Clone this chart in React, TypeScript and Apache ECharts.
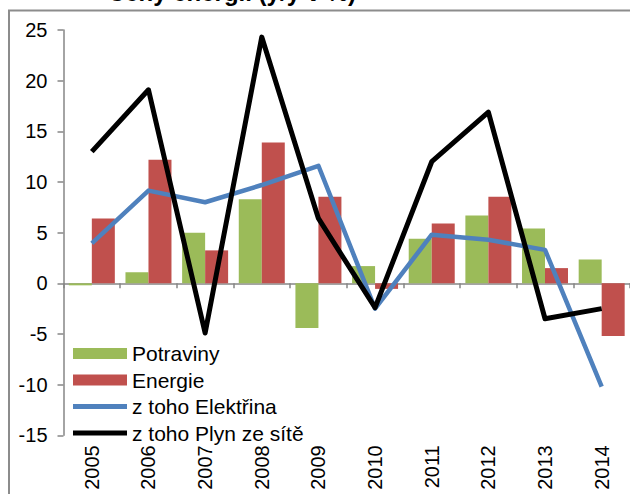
import React, { useEffect, useRef } from "react";
import * as echarts from "echarts";

const years = ["2005", "2006", "2007", "2008", "2009", "2010", "2011", "2012", "2013", "2014"];
const potraviny = [-0.2, 1.1, 5.0, 8.3, -4.4, 1.7, 4.4, 6.7, 5.4, 2.35];
const energie = [6.4, 12.2, 3.25, 13.9, 8.55, -0.55, 5.9, 8.55, 1.5, -5.2];
const elektrina = [3.95, 9.15, 8.0, 9.7, 11.6, -2.5, 4.8, 4.3, 3.3, -10.2];
const plyn = [13.0, 19.1, -4.9, 24.3, 6.4, -2.4, 12.0, 16.9, -3.5, -2.5];
const yTicks = { min: -15, max: 25, interval: 5 };
const titleText = "Ceny energií (y/y v %)";

const FONT = "'Liberation Sans', Arial, sans-serif";
const LINE_ICON = "path://M0,0 L54,0 L54,5 L0,5 Z";

export default function App() {
  const ref = useRef<HTMLDivElement>(null);
  useEffect(() => {
    if (!ref.current) return;
    const chart = echarts.init(ref.current, null, { renderer: "svg" });
    chart.setOption({
      animation: false,
      backgroundColor: "#ffffff",
      textStyle: { fontFamily: FONT },
      grid: { left: 63.5, right: -7.5, top: 30, bottom: 58.7, containLabel: false },
      graphic: [
        {
          type: "rect",
          shape: { x: 9, y: 10.5, width: 800, height: 700 },
          style: { fill: "none", stroke: "#8c8c8c", lineWidth: 2 },
          z: 0,
        },
        {
          type: "text",
          x: 356,
          y: 4,
          style: {
            text: titleText,
            font: "bold 24px " + FONT,
            fill: "#000",
            align: "right",
            verticalAlign: "bottom",
          },
        },
      ],
      legend: {
        orient: "vertical",
        left: 68,
        top: 338,
        itemWidth: 54,
        itemHeight: 11,
        itemGap: 5.5,
        symbolKeepAspect: true,
        textStyle: { fontSize: 21, color: "#000", fontFamily: FONT },
        data: [
          { name: "Potraviny", icon: "rect" },
          { name: "Energie", icon: "rect" },
          { name: "z toho Elektřina", icon: LINE_ICON },
          { name: "z toho Plyn ze sítě", icon: LINE_ICON },
        ],
      },
      xAxis: [
        {
          type: "category",
          data: years,
          position: "bottom",
          axisLine: { show: false, onZero: false },
          axisTick: { show: false },
          axisLabel: { rotate: 90, fontSize: 20, color: "#000", margin: 10, fontFamily: FONT },
        },
        {
          type: "category",
          data: years,
          position: "bottom",
          axisLine: { show: true, onZero: true, lineStyle: { color: "#868686", width: 1.5 } },
          axisTick: { show: true, length: 5, lineStyle: { color: "#868686", width: 1.5 } },
          axisLabel: { show: false },
        },
      ],
      yAxis: {
        type: "value",
        min: yTicks.min,
        max: yTicks.max,
        interval: yTicks.interval,
        axisLine: { show: true, lineStyle: { color: "#868686", width: 1.5 } },
        axisTick: { show: true, length: 6, lineStyle: { color: "#868686", width: 1.5 } },
        axisLabel: { fontSize: 20, color: "#000", margin: 16, fontFamily: FONT },
        splitLine: { show: false },
      },
      series: [
        {
          name: "Potraviny",
          type: "bar",
          data: potraviny,
          barWidth: 23,
          barGap: "0%",
          itemStyle: { color: "#9BBB59" },
        },
        {
          name: "Energie",
          type: "bar",
          data: energie,
          barWidth: 23,
          barGap: "0%",
          itemStyle: { color: "#C0504D" },
        },
        {
          name: "z toho Elektřina",
          type: "line",
          data: elektrina,
          symbol: "none",
          lineStyle: { color: "#4F81BD", width: 4.5, join: "round" },
          itemStyle: { color: "#4F81BD" },
        },
        {
          name: "z toho Plyn ze sítě",
          type: "line",
          data: plyn,
          symbol: "none",
          lineStyle: { color: "#000000", width: 5, join: "round" },
          itemStyle: { color: "#000000" },
        },
      ],
    });
    return () => chart.dispose();
  }, []);
  return (
    <div
      style={{
        position: "fixed",
        left: 0,
        top: 0,
        width: 630,
        height: 494,
        overflow: "hidden",
        background: "#fff",
      }}
    >
      <div ref={ref} style={{ width: 630, height: 494 }} />
    </div>
  );
}
